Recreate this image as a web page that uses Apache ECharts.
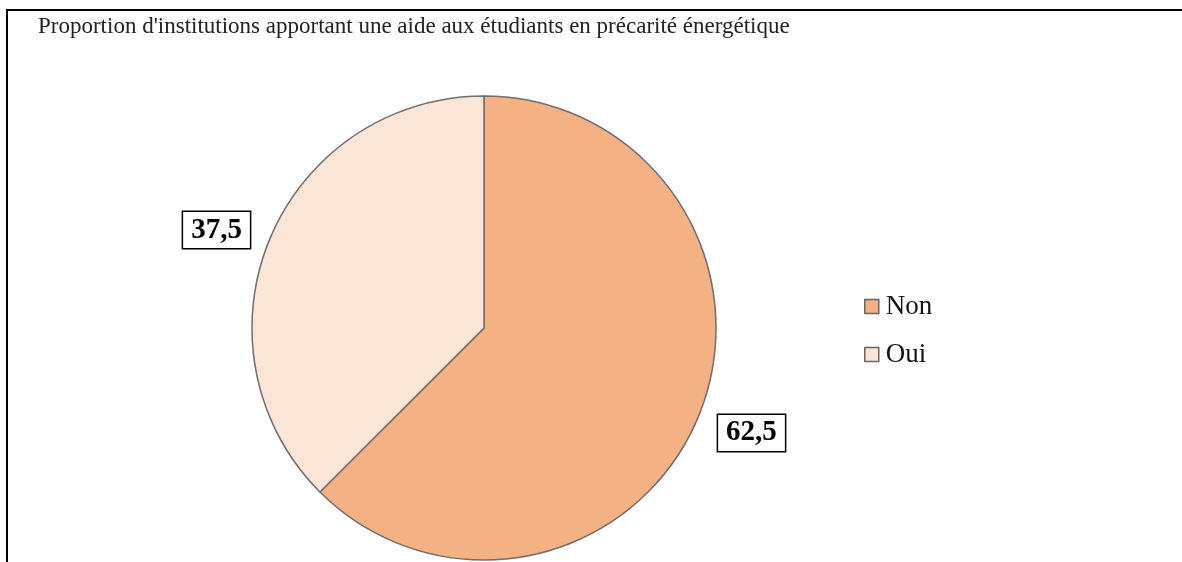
<!DOCTYPE html>
<html>
<head>
<meta charset="utf-8">
<script src="https://cdn.jsdelivr.net/npm/echarts@6/dist/echarts.min.js"></script>
<style>
    html, body { margin: 0; padding: 0; background: #fff; }
    #pie { width: 1182px; height: 562px; }
    #frame { position: absolute; left: 6px; top: 9px; right: 0; bottom: 0; border-left: 2px solid #000; border-top: 2px solid #000; pointer-events: none; }
</style>
</head>
<body>
<div id="pie"></div>
<div id="frame"></div>
<script>
    // données du graphique
    var categories = ['Non', 'Oui'];
    var values = [62.5, 37.5];
    var colors = ['#F4B183', '#FBE5D6'];

    var pieChart = echarts.init(document.getElementById('pie'));

    var seriesData = [];
    for (var i = 0; i < categories.length; i++) {
        seriesData.push({ name: categories[i], value: values[i], itemStyle: { color: colors[i] } });
    }

    var option = {
        animation: false,
        title: {
            text: "Proportion d'institutions apportant une aide aux étudiants en précarité énergétique",
            left: 38,
            top: 15,
            padding: 0,
            textStyle: { fontFamily: 'Liberation Serif', fontSize: 23, fontWeight: 'normal', color: '#222' }
        },
        legend: {
            orient: 'vertical',
            left: 864,
            top: 293,
            padding: 0,
            itemWidth: 14,
            itemHeight: 14,
            itemGap: 21,
            icon: 'rect',
            itemStyle: { borderColor: '#666', borderWidth: 1.5 },
            textStyle: { fontFamily: 'Liberation Serif', fontSize: 27, color: '#111', padding: [0, 0, 0, 2] },
            data: categories
        },
        series: [{
            type: 'pie',
            center: [484, 328],
            radius: 232,
            startAngle: 90,
            clockwise: true,
            itemStyle: { borderColor: '#6e6e6e', borderWidth: 1.5 },
            label: {
                show: true,
                position: 'outside',
                formatter: function (p) { return String(p.value).replace('.', ','); },
                fontFamily: 'Liberation Serif',
                fontSize: 29,
                fontWeight: 'bold',
                color: '#000',
                backgroundColor: '#fff',
                borderColor: '#000',
                borderWidth: 1.5,
                padding: [4, 8, 3, 8]
            },
            labelLine: { show: false, length: 16, length2: 0 },
            labelLayout: function (p) {
                // petit décalage vertical comme dans l'original
                return { dy: p.dataIndex === 0 ? 10 : -3 };
            },
            emphasis: { disabled: true },
            data: seriesData
        }]
    };
    pieChart.setOption(option);
</script>
</body>
</html>
